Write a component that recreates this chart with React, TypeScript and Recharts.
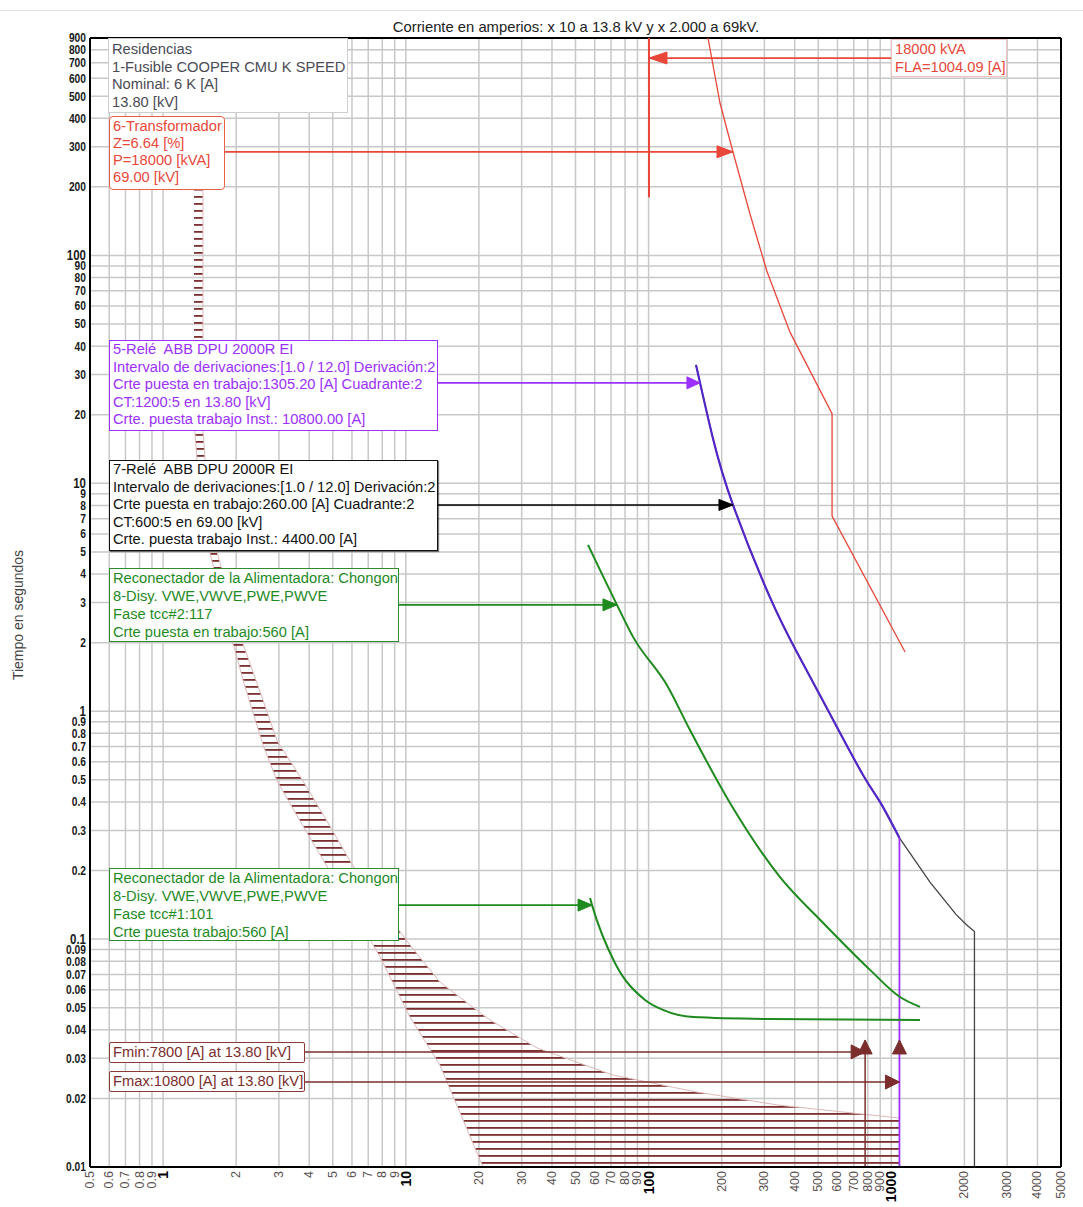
import React from 'react';
import {
  ComposedChart,
  XAxis,
  YAxis,
  CartesianGrid,
  Line,
  Area,
  ReferenceLine,
  ReferenceDot,
} from 'recharts';

// ---------- axis ticks ----------
const xTicks = [0.5, 0.6, 0.7, 0.8, 0.9, 1, 2, 3, 4, 5, 6, 7, 8, 9, 10, 20, 30, 40, 50, 60, 70, 80, 90, 100, 200, 300, 400, 500, 600, 700, 800, 900, 1000, 2000, 3000, 4000, 5000];
const yTicks = [0.01, 0.02, 0.03, 0.04, 0.05, 0.06, 0.07, 0.08, 0.09, 0.1, 0.2, 0.3, 0.4, 0.5, 0.6, 0.7, 0.8, 0.9, 1, 2, 3, 4, 5, 6, 7, 8, 9, 10, 20, 30, 40, 50, 60, 70, 80, 90, 100, 200, 300, 400, 500, 600, 700, 800, 900];
const majorX = [1, 10, 100, 1000];
const majorY = [0.1, 1, 10, 100];

// ---------- curves: [current (A, scaled), time (s)] ----------
const transformerCurve = [[175.7, 900], [196.9, 466.7], [222.7, 284.5], [261.7, 152], [307, 85.5], [382, 46.2], [570, 20.2], [570, 7.19], [1139, 1.82]];
const transformerFla = [[100.4, 900], [100.4, 180]];
const relay5Curve = [[156.8, 33.1], [184, 15.8], [222.7, 8.04], [313, 3.24], [410, 1.8], [558.9, 0.972], [764.5, 0.525], [898, 0.4], [1080, 0.278]];
const relay5Inst = [[1080, 0.278], [1080, 0.01]];
const relay7Curve = [[156.8, 33.1], [184, 15.8], [222.7, 8.04], [313, 3.24], [410, 1.8], [558.9, 0.972], [764.5, 0.525], [898, 0.4], [1080, 0.278]];
const relay7Tail = [[1080, 0.278], [1443, 0.178], [1850, 0.128], [2050, 0.115], [2200, 0.108], [2200, 0.01]];
const recloserTcc2 = [[56.3, 5.37], [74.1, 2.93], [86.3, 2.12], [119.1, 1.3], [148.1, 0.827], [216.5, 0.396], [348, 0.187], [523, 0.118], [817, 0.0733], [1086, 0.0557], [1313, 0.0504]];
const recloserTcc1 = [[57.4, 0.1515], [58.5, 0.141], [72.7, 0.0786], [96.7, 0.0541], [114.7, 0.0489], [152.4, 0.0455], [316, 0.0446], [1313, 0.0442]];
const faultMinLine = [[780, 0.01], [780, 0.0361]];

// ---------- fuse band (min melt .. total clear) ----------
const fuseBandCurrent = [1.341, 1.42, 1.46, 1.46, 1.53, 1.684, 1.749, 1.978, 2.134, 2.58, 2.95, 3.77, 4.73, 5.89, 7.83, 10.4, 13.8, 20.8, 22.2, 34.7, 70.7, 155, 341, 1080];
const fuseBandLow = [18.97, 8.45, 6.57, 6.57, 5.37, 3.58, 2.73, 1.857, 1.372, 0.711, 0.494, 0.3137, 0.209, 0.141, 0.0835, 0.0455, 0.0281, 0.01, 0.01, 0.01, 0.01, 0.01, 0.01, 0.01];
const fuseBandHigh = [193.8, 193.8, 193.8, 17.15, 8.45, 4.8, 4.17, 2.73, 1.974, 1.12, 0.741, 0.494, 0.33, 0.22, 0.141, 0.0943, 0.0649, 0.0465, 0.0442, 0.0333, 0.0254, 0.0214, 0.0187, 0.0164];

// ---------- annotation values ----------
const flaCurrent = 1004.09;
const flaArrowTime = 735;
const arrowStart = 0.65;
const trafoArrow = [222.7, 285];
const relay5Arrow = [162.8, 27.6];
const relay7Arrow = [222.7, 8.04];
const tcc2Arrow = [74.1, 2.93];
const tcc1Arrow = [58.5, 0.141];
const fminArrow = [780, 0.032];
const fmaxArrow = [1080, 0.0236];
const faultUpArrowTime = 0.0361;

// ---------- text ----------
const titleText = 'Corriente en amperios: x 10 a 13.8 kV y x 2.000 a 69kV.';
const yTitle = 'Tiempo en segundos';
const fuseLines = ['Residencias', '1-Fusible COOPER CMU K SPEED', 'Nominal: 6 K [A]', '13.80 [kV]'];
const trafoLines = ['6-Transformador', 'Z=6.64 [%]', 'P=18000 [kVA]', '69.00 [kV]'];
const flaLines = ['18000 kVA', 'FLA=1004.09 [A]'];
const relay5Lines = ['5-Relé  ABB DPU 2000R EI', 'Intervalo de derivaciones:[1.0 / 12.0] Derivación:2', 'Crte puesta en trabajo:1305.20 [A] Cuadrante:2', 'CT:1200:5 en 13.80 [kV]', 'Crte. puesta trabajo Inst.: 10800.00 [A]'];
const relay7Lines = ['7-Relé  ABB DPU 2000R EI', 'Intervalo de derivaciones:[1.0 / 12.0] Derivación:2', 'Crte puesta en trabajo:260.00 [A] Cuadrante:2', 'CT:600:5 en 69.00 [kV]', 'Crte. puesta trabajo Inst.: 4400.00 [A]'];
const tcc2Lines = ['Reconectador de la Alimentadora: Chongon', '8-Disy. VWE,VWVE,PWE,PWVE', 'Fase tcc#2:117', 'Crte puesta en trabajo:560 [A]'];
const tcc1Lines = ['Reconectador de la Alimentadora: Chongon', '8-Disy. VWE,VWVE,PWE,PWVE', 'Fase tcc#1:101', 'Crte puesta trabajo:560 [A]'];
const fminLines = ['Fmin:7800 [A] at 13.80 [kV]'];
const fmaxLines = ['Fmax:10800 [A] at 13.80 [kV]'];

const toPts = (arr: number[][]) => arr.map(([x, y]) => ({ x, y }));
const bandData = fuseBandCurrent.map((x, i) => ({ x, r: [fuseBandLow[i], fuseBandHigh[i]] }));

const FONT = "'Liberation Sans', Arial, sans-serif";

function XTick(props: any) {
  const { x, y, payload } = props;
  const v = payload.value;
  const major = majorX.includes(v);
  return (
    <text
      transform={`translate(${x},${y + 2}) rotate(-90)`}
      textAnchor="end"
      dominantBaseline="central"
      fontFamily={FONT}
      fontSize={major ? 14 : 12.5}
      fontWeight={major ? 700 : 400}
      fill={major ? '#000' : '#5a5050'}
    >
      {String(v)}
    </text>
  );
}

function YTick(props: any) {
  const { x, y, payload } = props;
  const v = payload.value;
  const major = majorY.includes(v);
  return (
    <text
      transform={`translate(${x},${y}) scale(0.82,1)`}
      textAnchor="end"
      dominantBaseline="central"
      fontFamily={FONT}
      fontSize={major ? 14 : 12.5}
      fontWeight={major ? 900 : 700}
      fill="#1a1a1a"
    >
      {String(v)}
    </text>
  );
}

const arrowShape = (dir: string, color: string, len: number, half: number) => (p: any) => {
  const { cx, cy } = p;
  let d = '';
  if (dir === 'right') d = `M${cx},${cy} L${cx - len},${cy - half} L${cx - len},${cy + half} Z`;
  if (dir === 'left') d = `M${cx},${cy} L${cx + len},${cy - half} L${cx + len},${cy + half} Z`;
  if (dir === 'up') d = `M${cx},${cy} L${cx - half},${cy + len} L${cx + half},${cy + len} Z`;
  return <path d={d} fill={color} stroke={color} strokeWidth={1} />;
};

function Box(props: { left: number; top: number; width: number; height: number; border: string; color: string; lines: string[]; radius?: number; lineHeight?: number; pad?: number; shadow?: string }) {
  const { left, top, width, height, border, color, lines, radius = 0, lineHeight = 17.5, pad = 1, shadow } = props;
  return (
    <div
      style={{
        position: 'absolute',
        left,
        top,
        width,
        height,
        boxSizing: 'border-box',
        border,
        borderRadius: radius,
        background: '#fff',
        color,
        fontFamily: FONT,
        fontSize: 14.7,
        lineHeight: `${lineHeight}px`,
        padding: `${pad}px 3px`,
        whiteSpace: 'pre',
        overflow: 'hidden',
        boxShadow: shadow,
      }}
    >
      {lines.map((l, i) => (
        <div key={i}>{l}</div>
      ))}
    </div>
  );
}

export default function App() {
  const red = '#e8473a';
  const purple = '#9b30ff';
  const green = '#1f8a1f';
  const maroon = '#7b2d2d';
  return (
    <div style={{ position: 'absolute', left: 0, top: 0, width: 1083, height: 1207, background: '#fff', overflow: 'hidden' }}>
      <svg width={0} height={0} style={{ position: 'absolute' }}>
        <defs>
          <pattern id="fuseHatch" patternUnits="userSpaceOnUse" width={8} height={7}>
            <rect x={0} y={0} width={8} height={1.8} fill="#7b2f2f" />
          </pattern>
        </defs>
      </svg>
      <div style={{ position: 'absolute', left: 0, top: 10, width: 1083, height: 0, borderTop: '1px solid #e2e2e2' }} />
      <ComposedChart width={1083} height={1207} margin={{ top: 38, right: 22, bottom: 0, left: 0 }}>
        <CartesianGrid stroke="#c8c8c8" strokeWidth={1.5} />
        <XAxis
          dataKey="x"
          type="number"
          scale="log"
          domain={[0.5, 5000]}
          allowDataOverflow
          ticks={xTicks}
          interval={0}
          height={40}
          tickSize={0}
          tickMargin={2}
          tick={<XTick />}
          axisLine={{ stroke: '#000', strokeWidth: 2 }}
          tickLine={false}
        />
        <YAxis
          type="number"
          scale="log"
          domain={[0.01, 900]}
          allowDataOverflow
          ticks={yTicks}
          interval={0}
          width={90}
          tickSize={0}
          tickMargin={4}
          tick={<YTick />}
          axisLine={{ stroke: '#000', strokeWidth: 2 }}
          tickLine={false}
        />
        <ReferenceLine y={900} stroke="#000" strokeWidth={2} ifOverflow="visible" />
        <ReferenceLine x={5000} stroke="#000" strokeWidth={2} ifOverflow="visible" />

        <Area data={bandData} dataKey="r" type="linear" fill="url(#fuseHatch)" fillOpacity={1} stroke="#e0b8b8" strokeWidth={1} isAnimationActive={false} dot={false} activeDot={false} />

        <Line data={toPts(transformerCurve)} dataKey="y" type="linear" stroke={red} strokeWidth={1.3} dot={false} activeDot={false} isAnimationActive={false} />
        <Line data={toPts(transformerFla)} dataKey="y" type="linear" stroke={red} strokeWidth={2} dot={false} activeDot={false} isAnimationActive={false} />
        <Line data={toPts(relay7Curve)} dataKey="y" type="natural" stroke="#444" strokeWidth={1.3} dot={false} activeDot={false} isAnimationActive={false} />
        <Line data={toPts(relay7Tail)} dataKey="y" type="linear" stroke="#444" strokeWidth={1.3} dot={false} activeDot={false} isAnimationActive={false} />
        <Line data={toPts(relay5Curve)} dataKey="y" type="natural" stroke="#5326c8" strokeWidth={2.2} dot={false} activeDot={false} isAnimationActive={false} />
        <Line data={toPts(relay5Inst)} dataKey="y" type="linear" stroke={purple} strokeWidth={1.8} dot={false} activeDot={false} isAnimationActive={false} />
        <Line data={toPts(recloserTcc2)} dataKey="y" type="monotone" stroke={green} strokeWidth={2} dot={false} activeDot={false} isAnimationActive={false} />
        <Line data={toPts(recloserTcc1)} dataKey="y" type="monotone" stroke={green} strokeWidth={2} dot={false} activeDot={false} isAnimationActive={false} />
        <Line data={toPts(faultMinLine)} dataKey="y" type="linear" stroke={maroon} strokeWidth={1.5} dot={false} activeDot={false} isAnimationActive={false} />

        {/* arrows */}
        <ReferenceLine segment={[{ x: flaCurrent, y: flaArrowTime }, { x: transformerFla[0][0], y: flaArrowTime }]} stroke={red} strokeWidth={1.8} ifOverflow="visible" />
        <ReferenceDot x={transformerFla[0][0]} y={flaArrowTime} r={1} ifOverflow="visible" shape={arrowShape('left', red, 18, 6)} />

        <ReferenceLine segment={[{ x: arrowStart, y: trafoArrow[1] }, { x: trafoArrow[0], y: trafoArrow[1] }]} stroke={red} strokeWidth={1.8} ifOverflow="visible" />
        <ReferenceDot x={trafoArrow[0]} y={trafoArrow[1]} r={1} ifOverflow="visible" shape={arrowShape('right', red, 16, 6)} />

        <ReferenceLine segment={[{ x: arrowStart, y: relay5Arrow[1] }, { x: relay5Arrow[0], y: relay5Arrow[1] }]} stroke={purple} strokeWidth={1.8} ifOverflow="visible" />
        <ReferenceDot x={relay5Arrow[0]} y={relay5Arrow[1]} r={1} ifOverflow="visible" shape={arrowShape('right', purple, 13, 6)} />

        <ReferenceLine segment={[{ x: arrowStart, y: relay7Arrow[1] }, { x: relay7Arrow[0], y: relay7Arrow[1] }]} stroke="#000" strokeWidth={1.6} ifOverflow="visible" />
        <ReferenceDot x={relay7Arrow[0]} y={relay7Arrow[1]} r={1} ifOverflow="visible" shape={arrowShape('right', '#000', 14, 5.5)} />

        <ReferenceLine segment={[{ x: arrowStart, y: tcc2Arrow[1] }, { x: tcc2Arrow[0], y: tcc2Arrow[1] }]} stroke={green} strokeWidth={1.6} ifOverflow="visible" />
        <ReferenceDot x={tcc2Arrow[0]} y={tcc2Arrow[1]} r={1} ifOverflow="visible" shape={arrowShape('right', green, 14, 6)} />

        <ReferenceLine segment={[{ x: arrowStart, y: tcc1Arrow[1] }, { x: tcc1Arrow[0], y: tcc1Arrow[1] }]} stroke={green} strokeWidth={1.6} ifOverflow="visible" />
        <ReferenceDot x={tcc1Arrow[0]} y={tcc1Arrow[1]} r={1} ifOverflow="visible" shape={arrowShape('right', green, 14, 6)} />

        <ReferenceLine segment={[{ x: arrowStart, y: fminArrow[1] }, { x: fminArrow[0], y: fminArrow[1] }]} stroke={maroon} strokeWidth={1.5} ifOverflow="visible" />
        <ReferenceDot x={fminArrow[0]} y={fminArrow[1]} r={1} ifOverflow="visible" shape={arrowShape('right', maroon, 14, 7)} />
        <ReferenceDot x={fminArrow[0]} y={faultUpArrowTime} r={1} ifOverflow="visible" shape={arrowShape('up', maroon, 14, 7)} />

        <ReferenceLine segment={[{ x: arrowStart, y: fmaxArrow[1] }, { x: fmaxArrow[0], y: fmaxArrow[1] }]} stroke={maroon} strokeWidth={1.5} ifOverflow="visible" />
        <ReferenceDot x={fmaxArrow[0]} y={fmaxArrow[1]} r={1} ifOverflow="visible" shape={arrowShape('right', maroon, 14, 7)} />
        <ReferenceDot x={fmaxArrow[0]} y={faultUpArrowTime} r={1} ifOverflow="visible" shape={arrowShape('up', maroon, 14, 7)} />
      </ComposedChart>

      <div style={{ position: 'absolute', left: 576, top: 19, transform: 'translateX(-50%)', whiteSpace: 'nowrap', fontFamily: FONT, fontSize: 14.8, color: '#222' }}>{titleText}</div>
      <div style={{ position: 'absolute', left: 18, top: 615, transform: 'translate(-50%,-50%) rotate(-90deg)', whiteSpace: 'nowrap', fontFamily: FONT, fontSize: 14, color: '#444' }}>{yTitle}</div>

      <Box left={108} top={38} width={240} height={75} border="1px solid #cfcfcf" color="#4a4a55" lines={fuseLines} pad={2} />
      <Box left={109} top={116} width={116} height={74} border="1.5px solid #e8604c" color={red} lines={trafoLines} radius={4} pad={1} lineHeight={17} />
      <Box left={891} top={39} width={116} height={38} border="1px solid #f2c4c0" color={red} lines={flaLines} pad={1} lineHeight={17.5} />
      <Box left={109} top={340} width={329} height={91} border={`1.5px solid ${purple}`} color={purple} lines={relay5Lines} pad={0} />
      <Box left={109} top={460} width={329} height={91} border="1.5px solid #111" color="#111" lines={relay7Lines} pad={0} shadow="1px 1px 1px rgba(0,0,0,0.5)" />
      <Box left={109} top={568} width={290} height={74} border="1.5px solid #2e8b2e" color={green} lines={tcc2Lines} pad={0} lineHeight={18} />
      <Box left={109} top={868} width={290} height={73} border="1.5px solid #2e8b2e" color={green} lines={tcc1Lines} pad={0} lineHeight={18} />
      <Box left={109} top={1042} width={196} height={21} border="1.5px solid #8b3a3a" color={maroon} lines={fminLines} pad={0} radius={2} lineHeight={18} />
      <Box left={109} top={1071} width={196} height={21} border="1.5px solid #8b3a3a" color={maroon} lines={fmaxLines} pad={0} radius={2} lineHeight={18} />
    </div>
  );
}
